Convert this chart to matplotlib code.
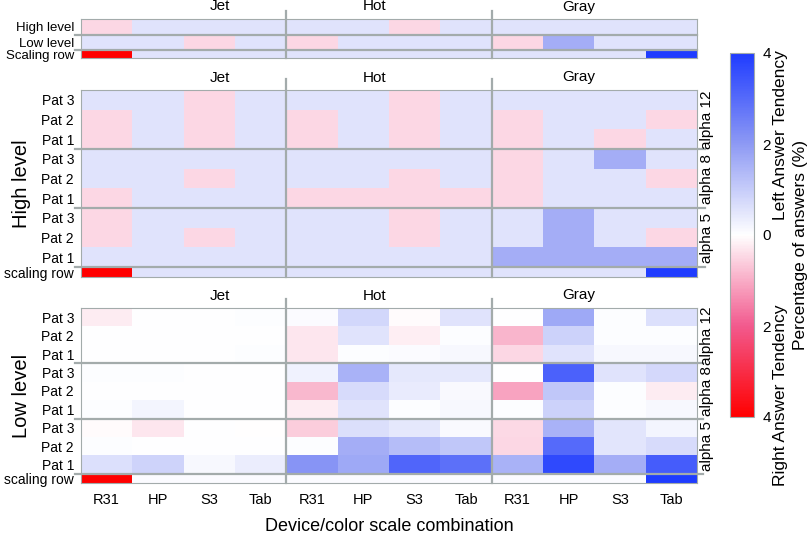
import numpy as np
import matplotlib.pyplot as plt
from matplotlib.colors import LinearSegmentedColormap
import matplotlib.transforms as mtransforms

plt.rcParams['font.family'] = ['Liberation Sans', 'DejaVu Sans']

# categories
devices = ['R31', 'HP', 'S3', 'Tab']
scales = ['Jet', 'Hot', 'Gray']
overview_rows = ['High level', 'Low level', 'Scaling row']
pat_rows = ['Pat 3', 'Pat 2', 'Pat 1'] * 3
alphas = ['alpha 12', 'alpha 8', 'alpha 5']

# values (percentage of answers, + = left tendency, - = right tendency)
# columns: Jet R31,HP,S3,Tab | Hot R31,HP,S3,Tab | Gray R31,HP,S3,Tab
overview = np.array([
    [-0.5, 0.55, 0.55, 0.55, 0.55, 0.55, -0.5, 0.55, 0.55, 0.55, 0.55, 0.55],
    [0.55, 0.55, -0.5, 0.55, -0.5, 0.55, 0.55, 0.55, -0.5, 1.6, 0.55, 0.55],
    [-4, 0.55, 0.55, 0.55, 0.55, 0.55, 0.55, 0.55, 0.55, 0.55, 0.55, 4],
])

high = np.array([
    [0.55, 0.55, -0.5, 0.55, 0.55, 0.55, -0.5, 0.55, 0.55, 0.55, 0.55, 0.55],
    [-0.5, 0.55, -0.5, 0.55, -0.5, 0.55, -0.5, 0.55, -0.5, 0.55, 0.55, -0.5],
    [-0.5, 0.55, -0.5, 0.55, -0.5, 0.55, -0.5, 0.55, -0.5, 0.55, -0.5, 0.55],
    [0.55, 0.55, 0.55, 0.55, 0.55, 0.55, 0.55, 0.55, -0.5, 0.55, 1.6, 0.55],
    [0.55, 0.55, -0.5, 0.55, 0.55, 0.55, -0.5, 0.55, -0.5, 0.55, 0.55, -0.5],
    [-0.5, 0.55, 0.55, 0.55, -0.5, -0.5, -0.5, -0.5, -0.5, 0.55, 0.55, 0.55],
    [-0.5, 0.55, 0.55, 0.55, 0.55, 0.55, -0.5, 0.55, 0.55, 1.6, 0.55, 0.55],
    [-0.5, 0.55, -0.5, 0.55, 0.55, 0.55, -0.5, 0.55, 0.55, 1.6, 0.55, -0.5],
    [0.55, 0.55, 0.55, 0.55, 0.55, 0.55, 0.55, 0.55, 1.6, 1.6, 1.6, 1.6],
])
high_scaling = [-4, 0.55, 0.55, 0.55, 0.55, 0.55, 0.55, 0.55, 0.55, 0.55, 0.55, 4]

low = np.array([
    [-0.25, 0.03, 0.03, 0.05, 0.08, 0.8, -0.05, 0.55, 0.03, 1.7, 0.05, 0.6],
    [0.02, 0.02, 0.0, 0.03, -0.3, 0.55, -0.2, 0.05, -0.9, 0.9, 0.05, 0.05],
    [0.03, 0.03, 0.03, 0.05, -0.3, 0.05, 0.08, 0.15, -0.5, 0.55, 0.15, 0.15],
    [0.05, 0.05, 0.03, 0.03, 0.25, 1.5, 0.45, 0.45, 0.03, 3.2, 0.55, 0.75],
    [0.02, 0.02, 0.0, 0.02, -0.85, 0.7, 0.4, 0.1, -1.1, 1.1, 0.05, -0.25],
    [0.05, 0.2, 0.02, 0.02, -0.25, 0.55, 0.05, 0.15, 0.05, 0.9, 0.05, 0.15],
    [-0.05, -0.3, 0.03, -0.03, -0.6, 0.65, 0.45, 0.1, -0.45, 1.5, 0.5, 0.2],
    [0.05, 0.03, 0.03, 0.03, 0.05, 1.6, 1.3, 1.1, -0.5, 3.0, 0.5, 0.7],
    [0.6, 0.85, 0.15, 0.35, 2.1, 1.7, 3.1, 2.9, 1.5, 3.7, 1.6, 3.3],
])
low_scaling = [-4, 0.08, 0.08, 0.08, 0.08, 0.08, 0.08, 0.08, 0.08, 0.08, 0.08, 4]

cmap = LinearSegmentedColormap.from_list(
    'rwb', ['#ff0000', '#f25a8e', '#ffffff', '#8e9af4', '#1f3cff'])
sep = '#a3abab'

fig = plt.figure(figsize=(8.1, 5.35), dpi=100)
W, H = 810., 535.

def px_axes(x0, y0, x1, y1):
    return fig.add_axes([x0 / W, 1 - y1 / H, (x1 - x0) / W, (y1 - y0) / H])

def draw_panel(ax, vals, rows, hlines, ext_right, vext, fs=10):
    n = vals.shape[0]
    yedges = np.append(np.arange(n), n - 0.5)
    xedges = np.arange(vals.shape[1] + 1)
    m = ax.pcolormesh(xedges, yedges, vals, cmap=cmap, vmin=-4, vmax=4)
    ax.set_xlim(0, vals.shape[1])
    ax.set_ylim(yedges[-1], 0)
    ax.set_yticks((yedges[:-1] + yedges[1:]) / 2)
    ax.set_yticklabels(rows, fontsize=fs)
    ax.tick_params(length=0, pad=5)
    ax.set_xticks([])
    for s in ax.spines.values():
        s.set_color(sep)
        s.set_linewidth(0.8)
    for y in hlines:
        ax.axhline(y, xmin=-0.0097, xmax=1 + ext_right, color=sep, lw=1.6,
                   clip_on=False)
    for x in [4, 8]:
        ax.axvline(x, ymin=0, ymax=1 + vext, color=sep, lw=1.6, clip_on=False)
    tr = mtransforms.blended_transform_factory(ax.transData, ax.transAxes)
    for name, xc in zip(scales, [2.7, 5.72, 9.7]):
        ax.annotate(name, xy=(xc, 1), xycoords=tr, xytext=(0, 9),
                    textcoords='offset points', ha='center', va='center',
                    fontsize=11)
    return m

ax1 = px_axes(81, 19, 697, 58)
draw_panel(ax1, overview, overview_rows, [1, 2], 0.0, 0.2, fs=9.5)

ax2 = px_axes(81, 90, 697, 277)
m = draw_panel(ax2, np.vstack([high, high_scaling]), pat_rows + ['scaling row'],
               [3, 6, 9], 0.013, 0.06)

ax3 = px_axes(81, 308, 697, 483)
draw_panel(ax3, np.vstack([low, low_scaling]), pat_rows + ['scaling row'],
           [3, 6, 9], 0.01, 0.05)

for ax, lab in [(ax2, 'High level'), (ax3, 'Low level')]:
    ax.text(-0.096, 0.5, lab, transform=ax.transAxes, rotation=90,
            ha='center', va='center', fontsize=14.5)
    tr = mtransforms.blended_transform_factory(ax.transAxes, ax.transData)
    for a, yc in zip(alphas, [1.5, 4.5, 7.5]):
        ax.text(1.016, yc, a, transform=tr, rotation=90, ha='center',
                va='center', fontsize=11)

ax3.set_xticks(np.arange(12) + 0.5)
ax3.set_xticklabels(devices * 3, fontsize=10.5)
ax3.tick_params(axis='x', length=0, pad=7)
ax3.set_xlabel('Device/color scale combination', fontsize=13, labelpad=8)

cax = px_axes(730, 53, 754, 417)
cb = fig.colorbar(m, cax=cax, ticks=[-4, -2, 0, 2, 4])
cb.ax.set_yticklabels(['4', '2', '0', '2', '4'], fontsize=11)
cb.ax.tick_params(length=0, pad=6)
cb.outline.set_edgecolor(sep)
cb.outline.set_linewidth(0.8)

fig.text(780 / W, 1 - 135 / H, 'Left Answer Tendency', rotation=90,
         ha='center', va='center', fontsize=12.5)
fig.text(780 / W, 1 - 395 / H, 'Right Answer Tendency', rotation=90,
         ha='center', va='center', fontsize=12.5)
fig.text(800 / W, 1 - 245 / H, 'Percentage of answers (%)', rotation=90,
         ha='center', va='center', fontsize=12.5)

fig.savefig('out.png', dpi=100)
